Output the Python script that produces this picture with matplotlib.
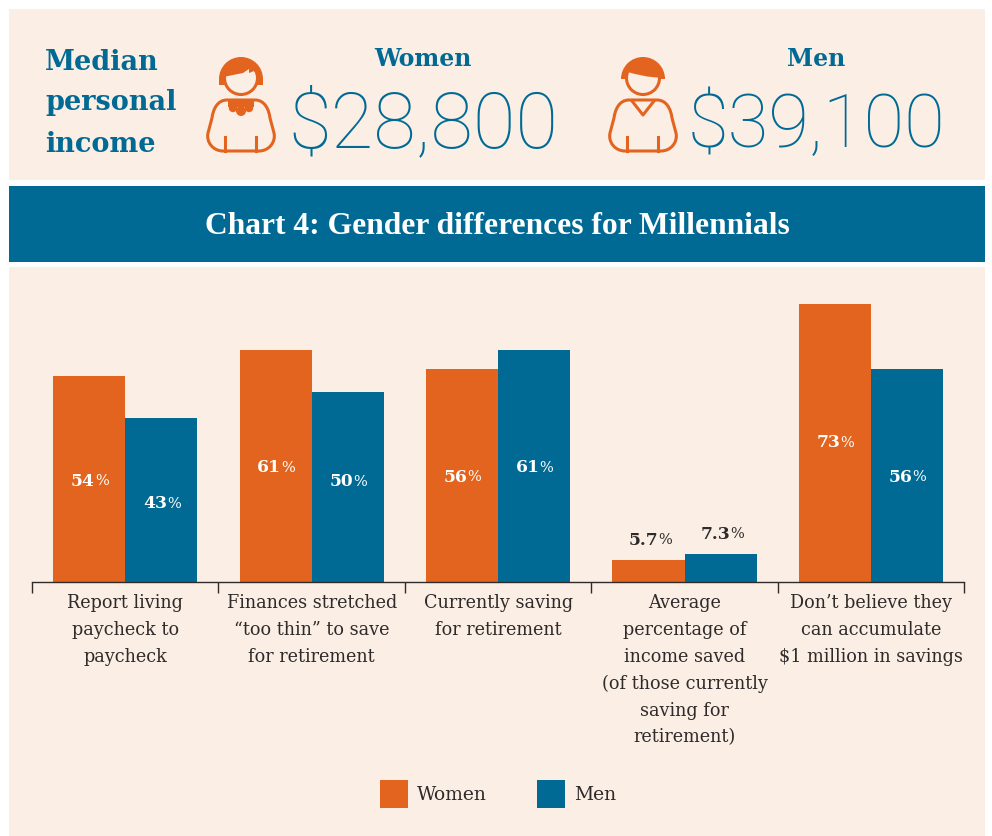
import matplotlib
matplotlib.use('Agg')
import matplotlib.pyplot as plt
import numpy as np
from matplotlib.patches import Rectangle, Circle, PathPatch, Wedge, Polygon
from matplotlib.path import Path

# chart data
categories = [
    'Report living\npaycheck to\npaycheck',
    'Finances stretched\n\u201ctoo thin\u201d to save\nfor retirement',
    'Currently saving\nfor retirement',
    'Average\npercentage of\nincome saved\n(of those currently\nsaving for\nretirement)',
    'Don\u2019t believe they\ncan accumulate\n$1 million in savings',
]
women = [54, 61, 56, 5.7, 73]
men = [43, 50, 61, 7.3, 56]
women_labels = ['54', '61', '56', '5.7', '73']
men_labels = ['43', '50', '61', '7.3', '56']

ORANGE = '#E3641E'
BLUE = '#006A94'
CREAM = '#FBEEE5'
DARK = '#2F2B2A'
SERIF = 'DejaVu Serif'
W, H = 992, 836

fig = plt.figure(figsize=(W / 100, H / 100), dpi=100, facecolor='white')

# pixel overlay for the panels and header
bg = fig.add_axes([0, 0, 1, 1], zorder=0)
bg.set_xlim(0, W)
bg.set_ylim(H, 0)
bg.axis('off')
bg.add_patch(Rectangle((9, 9), 976, 171, color=CREAM, lw=0))
bg.add_patch(Rectangle((9, 186), 976, 76, color=BLUE, lw=0))
bg.add_patch(Rectangle((9, 267), 976, 569, color=CREAM, lw=0))


def draw_person(x0, woman):
    # x0 is the left edge of the body, icon is 68px wide
    cx = x0 + 34
    lw = 2.2
    # hair dome
    bg.add_patch(Wedge((cx, 79), 22, 180, 360, color=ORANGE, lw=0, zorder=1))
    if woman:
        bg.add_patch(Rectangle((cx - 22, 78), 44, 6.5, color=ORANGE, lw=0, zorder=1))
    # face
    bg.add_patch(Circle((cx, 78), 16.5, facecolor=CREAM, edgecolor=ORANGE, lw=lw, zorder=2))
    # fringe on top of the face
    if woman:
        fringe = [(cx - 18, 77), (cx - 8, 75), (cx + 2, 73), (cx + 8, 69), (cx + 8, 73), (cx + 13, 71),
                  (cx + 18, 78), (cx + 16, 65), (cx + 10, 60), (cx - 10, 60), (cx - 16, 65)]
    else:
        fringe = [(cx - 19, 71), (cx - 8, 74), (cx + 4, 76.5), (cx + 19, 78), (cx + 16, 65), (cx + 10, 60),
                  (cx - 10, 60), (cx - 16, 65)]
    bg.add_patch(Polygon(fringe, color=ORANGE, lw=0, zorder=3))
    # body outline
    codes = [Path.MOVETO, Path.LINETO, Path.CURVE4, Path.CURVE4, Path.CURVE4, Path.LINETO,
             Path.CURVE4, Path.CURVE4, Path.CURVE4, Path.LINETO, Path.CURVE4, Path.CURVE4, Path.CURVE4,
             Path.LINETO, Path.CURVE4, Path.CURVE4, Path.CURVE4, Path.CLOSEPOLY]
    body = [(x0 + 20, 100), (x0 + 48, 100), (x0 + 58, 100), (x0 + 62, 110), (x0 + 63, 118), (x0 + 67, 133),
            (x0 + 69, 142), (x0 + 62, 151), (x0 + 52, 151), (x0 + 16, 151), (x0 + 6, 151), (x0 - 1, 142),
            (x0 + 1, 133), (x0 + 5, 118), (x0 + 6, 110), (x0 + 10, 100), (x0 + 20, 100), (x0 + 20, 100)]
    bg.add_patch(PathPatch(Path(body, codes), facecolor='none', edgecolor=ORANGE, lw=lw, zorder=3))
    bg.plot([x0 + 18, x0 + 18], [137, 151], color=ORANGE, lw=lw, zorder=3)
    bg.plot([x0 + 49, x0 + 49], [137, 151], color=ORANGE, lw=lw, zorder=3)
    if woman:
        for dx, dy, r in [(-8, 108, 4.2), (0, 111, 5), (8, 108, 4.2)]:
            bg.add_patch(Circle((cx + dx, dy), r, color=ORANGE, lw=0, zorder=3))
        bg.add_patch(Rectangle((cx - 13, 100), 26, 7, color=ORANGE, lw=0, zorder=3))
    else:
        bg.plot([cx - 11, cx, cx + 11], [101, 115, 101], color=ORANGE, lw=lw, zorder=3)


draw_person(207, True)
draw_person(609, False)

for y, s in zip([62, 103, 145], ['Median', 'personal', 'income']):
    bg.text(45, y, s, color=BLUE, family=SERIF, weight='bold', fontsize=19.5, va='center', ha='left')
bg.text(423, 59, 'Women', color=BLUE, family=SERIF, weight='bold', fontsize=17, va='center', ha='center')
bg.text(816, 59, 'Men', color=BLUE, family=SERIF, weight='bold', fontsize=17, va='center', ha='center')
bg.text(423, 126, '$28,800', color=BLUE, family='Roboto', weight=250, fontsize=56, va='center', ha='center')
bg.text(816, 126, '$39,100', color=BLUE, family='Roboto', weight=250, fontsize=53.5, va='center', ha='center')
bg.text(497, 227, 'Chart 4: Gender differences for Millennials', color='white', family='Liberation Serif',
        weight='bold', fontsize=22.7, va='center', ha='center')

# bar chart
ax_left, ax_right, ax_base, ax_top = 32, 964.2, 582, 282
px_per_pt = 3.81
ax = fig.add_axes([ax_left / W, 1 - ax_base / H, (ax_right - ax_left) / W, (ax_base - ax_top) / H], zorder=1)
ax.patch.set_alpha(0)
x = np.arange(len(categories))
bar_w = 72 / 186.3
ax.bar(x - bar_w / 2, women, bar_w, color=ORANGE, label='Women')
ax.bar(x + bar_w / 2, men, bar_w, color=BLUE, label='Men')
ax.set_xlim(-0.5, 4.5)
ax.set_ylim(0, 300 / px_per_pt)

for s in ['top', 'left', 'right']:
    ax.spines[s].set_visible(False)
ax.spines['bottom'].set_color(DARK)
ax.spines['bottom'].set_linewidth(1)
ax.set_yticks([])
ax.set_xticks(np.arange(6) - 0.5)
ax.set_xticklabels([])
ax.tick_params(axis='x', which='major', length=8, width=1, color=DARK)
ax.set_xticks(x, minor=True)
ax.set_xticklabels(categories, minor=True, family=SERIF, fontsize=12.7, color=DARK, linespacing=1.62)
ax.tick_params(axis='x', which='minor', length=0, pad=9)


def value_label(xc, y, txt, color):
    # bold number with a lighter, smaller percent sign
    split = xc + (0.03 if '.' not in txt else 0.05)
    ax.text(split, y, txt, color=color, family=SERIF, weight='bold', fontsize=12.3, ha='right', va='center')
    ax.text(split, y, '%', color=color, family=SERIF, fontsize=10.5, ha='left', va='center')


# small vertical nudges of the labels, in px
women_dy = [0, 0, 0, 0, -2]
men_dy = [2, -7, 0, 0, 0]
for i in range(len(categories)):
    for off, vals, labs, dy in [(-bar_w / 2, women, women_labels, women_dy), (bar_w / 2, men, men_labels, men_dy)]:
        xc = x[i] + off
        v, txt = vals[i], labs[i]
        if v < 10:
            value_label(xc, v + 5.2, txt, DARK)
        else:
            value_label(xc, v / 2 - 0.5 - dy[i] / px_per_pt, txt, 'white')

ax.legend(loc='center', bbox_to_anchor=(498 / W, 1 - 794 / H), bbox_transform=fig.transFigure, ncol=2, frameon=False,
          prop={'family': SERIF, 'size': 13.5}, labelcolor=DARK, handlelength=1.5, handleheight=1.9,
          handletextpad=0.5, columnspacing=2.63)

fig.savefig('out.png', dpi=100, facecolor='white')
